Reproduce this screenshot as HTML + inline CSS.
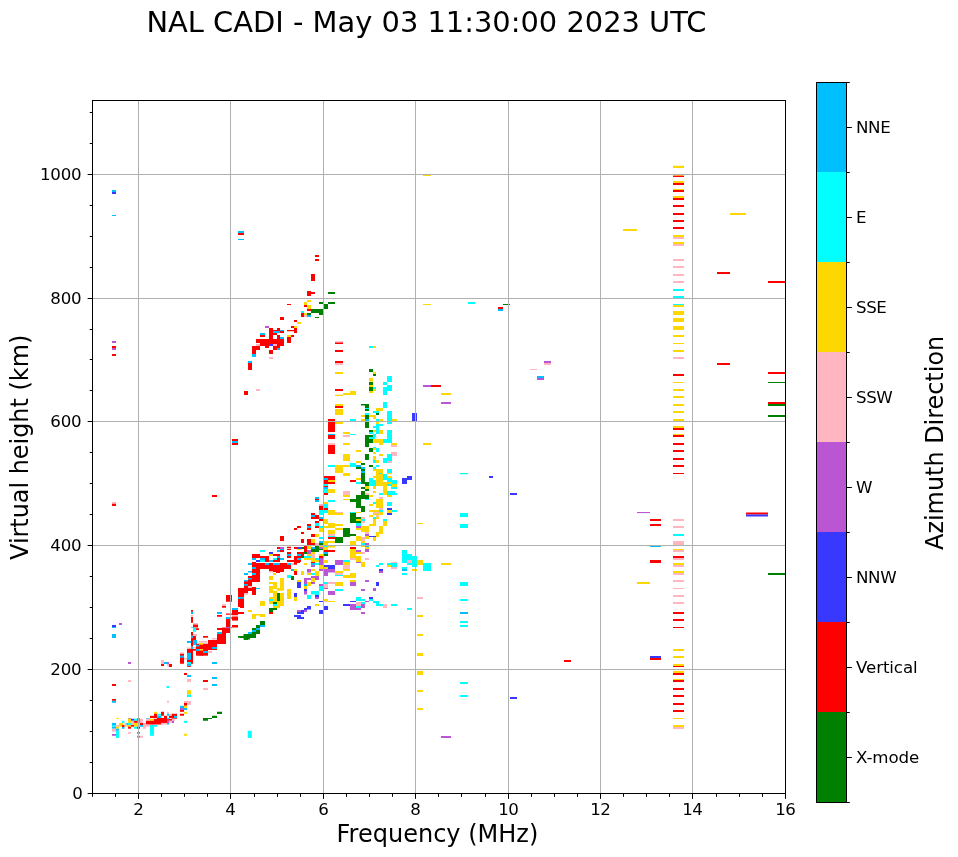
<!DOCTYPE html>
<html><head><meta charset="utf-8"><title>NAL CADI ionogram</title>
<style>html,body{margin:0;padding:0;background:#fff;}svg{display:block;}</style></head>
<body><svg width="958" height="857" viewBox="0 0 958 857" font-family="'DejaVu Sans', 'Liberation Sans', sans-serif" fill="#000">
<rect width="958" height="857" fill="#fff"/>
<path fill="#00bfff" d="M112 190h4v2h-4z"/>
<path fill="#3838ff" d="M112 192h4v2h-4z"/>
<path fill="#00bfff" d="M112 215h4v1h-4z"/>
<path fill="#ba55d3" d="M112 341h4v2h-4z"/>
<path fill="#ff0000" d="M112 346h4v2h-4z"/>
<path fill="#ba55d3" d="M112 348h4v2h-4z"/>
<path fill="#ff0000" d="M112 354h4v2h-4z"/>
<path fill="#ffb6c1" d="M112 502h4v1.75h-4z"/>
<path fill="#ff0000" d="M112 503.75h4v2.25h-4z"/>
<path fill="#3838ff" d="M112 625h4v2h-4z"/>
<path fill="#00bfff" d="M112 627h4v1h-4z"/>
<path fill="#ba55d3" d="M119 623h3v2h-3z"/>
<path fill="#00bfff" d="M112 634h4v4h-4z"/>
<path fill="#ba55d3" d="M128 662h3v2h-3z"/>
<path fill="#ffb6c1" d="M128 680h3v2h-3z"/>
<path fill="#ff0000" d="M112 684h4v2h-4z"/>
<path fill="#ffb6c1" d="M161 660h3v4h-3z"/>
<path fill="#00bfff" d="M164 662h4v2h-4z"/>
<path fill="#ba55d3" d="M167 662h2v2h-2z"/>
<path fill="#ff0000" d="M161 664h3v2h-3z"/>
<path fill="#ffb6c1" d="M167 664h2v2.5h-2z"/>
<path fill="#ff0000" d="M169 664h3v3h-3zM180 653.5h4v10.2h-4z"/>
<path fill="#00bfff" d="M180 655.6h4v2.1h-4z"/>
<path fill="#ffb6c1" d="M180 652.5h4v1h-4zM184 657.7h3v1.8h-3z"/>
<path fill="#ff0000" d="M187 648.6h4v18.2h-4z"/>
<path fill="#00bfff" d="M187 652.8h4v7h-4z"/>
<path fill="#00ffff" d="M187 662h4v2h-4z"/>
<path fill="#00bfff" d="M187 664h4v2h-4z"/>
<path fill="#ffb6c1" d="M187 647.5h4v1.2h-4z"/>
<path fill="#ff0000" d="M191 610h2v1.8h-2z"/>
<path fill="#00bfff" d="M191 611.8h2v2.2h-2z"/>
<path fill="#ffb6c1" d="M191 614.8h2v1.9h-2z"/>
<path fill="#ff0000" d="M191 617h2v5.8h-2z"/>
<path fill="#00bfff" d="M191 627h2v0.7h-2z"/>
<path fill="#ff0000" d="M191 632h2v3.7h-2z"/>
<path fill="#00bfff" d="M191 635.7h2v2h-2z"/>
<path fill="#ff0000" d="M191 637.7h2v9h-2z"/>
<path fill="#00bfff" d="M191 646.7h2v2.3h-2z"/>
<path fill="#ff0000" d="M191 649h2v14.7h-2z"/>
<path fill="#ffb6c1" d="M193 623h5v1.5h-5z"/>
<path fill="#ff0000" d="M193 624.5h5v3h-5z"/>
<path fill="#00ffff" d="M193 627.6h3v4.2h-3z"/>
<path fill="#ff0000" d="M196 628.3h3v1.7h-3zM193 635.7h3v9.3h-3zM193 649h3v1.8h-3z"/>
<path fill="#00bfff" d="M193 640h4v5h-4z"/>
<path fill="#ffb6c1" d="M193 634h4v2h-4zM193 647h4v1.6h-4z"/>
<path fill="#ff0000" d="M196 643.7h12v12h-12z"/>
<path fill="#ffd700" d="M199 643h4v1.7h-4zM199 649h4v1.7h-4z"/>
<path fill="#00bfff" d="M196 644.7h3.4v1.8h-3.4zM196 649h3.4v2h-3.4z"/>
<path fill="#ffb6c1" d="M199 641h8v1.6h-8z"/>
<path fill="#ff0000" d="M203 636h5v1.7h-5z"/>
<path fill="#00bfff" d="M203 651h5v2h-5z"/>
<path fill="#ff0000" d="M199 650.7h4v4.9h-4zM208 640h9v10h-9zM217 633h9v11h-9z"/>
<path fill="#ffb6c1" d="M212 638h5v1.5h-5z"/>
<path fill="#00bfff" d="M212 647h5v2h-5z"/>
<path fill="#ffb6c1" d="M208 651h4v2h-4z"/>
<path fill="#00bfff" d="M212 662h5v2h-5z"/>
<path fill="#ff0000" d="M217 628h9v2h-9zM222 627.6h8v5.4h-8z"/>
<path fill="#00bfff" d="M217 632h5v2h-5z"/>
<path fill="#ff0000" d="M222 641h4v1.6h-4zM226 595h6v6.7h-6zM226 619h4v8h-4z"/>
<path fill="#00bfff" d="M226 617h6v2h-6z"/>
<path fill="#ba55d3" d="M226 627h6v1.2h-6z"/>
<path fill="#ff0000" d="M222 606h4v1.7h-4z"/>
<path fill="#ffb6c1" d="M222 604h4v2h-4z"/>
<path fill="#00bfff" d="M217 612h5v2h-5z"/>
<path fill="#ff0000" d="M217 615h5v1.7h-5zM226 613.6h6v1.1h-6z"/>
<path fill="#00bfff" d="M232 608h6v2h-6z"/>
<path fill="#ff0000" d="M232 610h6v10.6h-6z"/>
<path fill="#ffb6c1" d="M232 615h6v1.7h-6z"/>
<path fill="#ff0000" d="M232 625h6v2.6h-6zM238 612h6v2h-6zM238 588h6v19h-6z"/>
<path fill="#00bfff" d="M238 597h6v2h-6z"/>
<path fill="#ff0000" d="M244 580h4v14h-4z"/>
<path fill="#00bfff" d="M244 580h4v1.7h-4zM244 584h4v2h-4z"/>
<path fill="#ffb6c1" d="M244 593h4v1.7h-4z"/>
<path fill="#ffd700" d="M248 610h2v2h-2z"/>
<path fill="#008000" d="M243.5 634h6.5v5.5h-6.5zM238 636h5.5v1.7h-5.5z"/>
<path fill="#00bfff" d="M248 632h2v2h-2z"/>
<path fill="#ff0000" d="M184 673h3v2h-3z"/>
<path fill="#00bfff" d="M187 675h4v2h-4z"/>
<path fill="#ffb6c1" d="M187 679h4v3h-4z"/>
<path fill="#ff0000" d="M203 680h5v2h-5z"/>
<path fill="#00bfff" d="M212 677h5v2h-5zM212 684h5v2h-5z"/>
<path fill="#ffb6c1" d="M203 688h5v2h-5z"/>
<path fill="#ffd700" d="M187 690h4v4.6h-4z"/>
<path fill="#00ffff" d="M187 694.6h4v2.4h-4z"/>
<path fill="#ff0000" d="M112 699h4v1.8h-4z"/>
<path fill="#00bfff" d="M112 700.8h4v2h-4z"/>
<path fill="#ffd700" d="M116 717.9h3v0.9h-3z"/>
<path fill="#00bfff" d="M112 722.9h4v2.1h-4z"/>
<path fill="#00ffff" d="M112 725h4v1.7h-4z"/>
<path fill="#00bfff" d="M112 726.7h4v2h-4z"/>
<path fill="#ffb6c1" d="M112 728.75h4v3h-4z"/>
<path fill="#ba55d3" d="M112 734h4v1.8h-4z"/>
<path fill="#ffb6c1" d="M116 725h3v1.7h-3z"/>
<path fill="#ffd700" d="M116 726.7h3v2h-3z"/>
<path fill="#00bfff" d="M116 728.75h3v2h-3z"/>
<path fill="#00ffff" d="M116 730.8h3v7.2h-3z"/>
<path fill="#ffd700" d="M119 722.9h4v3.8h-4z"/>
<path fill="#00ffff" d="M122 720.8h2.5v2.1h-2.5z"/>
<path fill="#ff0000" d="M122 725h2.5v2h-2.5z"/>
<path fill="#00bfff" d="M122 727h2.5v1.75h-2.5z"/>
<path fill="#ffb6c1" d="M124.5 722.9h2v2.1h-2z"/>
<path fill="#ffd700" d="M124.5 725h2v1.7h-2z"/>
<path fill="#00bfff" d="M126.5 722.9h3.5v2.1h-3.5z"/>
<path fill="#ffb6c1" d="M126.5 725h3.5v1.7h-3.5z"/>
<path fill="#ba55d3" d="M128 718h3v0.75h-3z"/>
<path fill="#ffd700" d="M128 718.75h3v4.1h-3z"/>
<path fill="#00ffff" d="M128 722.9h3v2.1h-3z"/>
<path fill="#ffd700" d="M128 725h3v1.7h-3z"/>
<path fill="#ff0000" d="M128 726.7h3v2h-3z"/>
<path fill="#ffb6c1" d="M128 732h3v1.75h-3z"/>
<path fill="#3838ff" d="M131 718.75h3v2h-3z"/>
<path fill="#ffb6c1" d="M131 720.8h3v4.2h-3z"/>
<path fill="#ff0000" d="M131 725h3v1.7h-3z"/>
<path fill="#00ffff" d="M134 718.75h3v2h-3z"/>
<path fill="#ff0000" d="M134 720.8h3v2.1h-3z"/>
<path fill="#ffd700" d="M134 722.9h3v3.8h-3z"/>
<path fill="#00ffff" d="M134 726.7h3v2h-3z"/>
<path fill="#00bfff" d="M137 718h3v4.9h-3z"/>
<path fill="#ffb6c1" d="M137 722.9h3v3.8h-3z"/>
<path fill="#ff0000" d="M137 726.7h3v2h-3z"/>
<path fill="#ba55d3" d="M137 732h3v1.75h-3z"/>
<path fill="#00bfff" d="M137 735.8h3v1.9h-3z"/>
<path fill="#ffb6c1" d="M140 735.8h3v1.9h-3zM140 718.75h3v4.1h-3z"/>
<path fill="#ff0000" d="M140 722.9h3v2.1h-3z"/>
<path fill="#00bfff" d="M140 725h3v1.7h-3z"/>
<path fill="#ffb6c1" d="M143 722.9h3v5.8h-3z"/>
<path fill="#00bfff" d="M146 718h4v0.75h-4z"/>
<path fill="#ffb6c1" d="M146 718.75h4v2h-4z"/>
<path fill="#ff0000" d="M146 720.8h4v3.8h-4z"/>
<path fill="#ffb6c1" d="M146 724.6h4v2.1h-4z"/>
<path fill="#ff0000" d="M150 715.8h4v2.2h-4z"/>
<path fill="#ffd700" d="M150 718.75h4v2h-4z"/>
<path fill="#ff0000" d="M150 720.8h4v3.8h-4z"/>
<path fill="#00ffff" d="M150 725h4v10.8h-4z"/>
<path fill="#ffd700" d="M154 711.8h3v2h-3z"/>
<path fill="#ff0000" d="M154 713.75h3v4.2h-3zM154 718.75h3v5.8h-3z"/>
<path fill="#00ffff" d="M154 725h3v1.7h-3zM157 713.75h4.5v2.1h-4.5z"/>
<path fill="#00bfff" d="M157 715.8h4.5v2.2h-4.5z"/>
<path fill="#ff0000" d="M157 718h4.5v6.6h-4.5zM161 711.8h3v4h-3zM161 718h3v4.9h-3z"/>
<path fill="#ffb6c1" d="M161 722.9h6v1.7h-6z"/>
<path fill="#ff0000" d="M164 715.8h3v7.1h-3z"/>
<path fill="#ffb6c1" d="M167 700.8h2v2h-2zM167 711.8h2v2h-2z"/>
<path fill="#00bfff" d="M167 713.75h2v2h-2zM167 718h2v1.2h-2z"/>
<path fill="#ff0000" d="M167 719.2h2v1.6h-2z"/>
<path fill="#ba55d3" d="M167 720.8h2v2.1h-2z"/>
<path fill="#00bfff" d="M167 722.9h2v1.7h-2z"/>
<path fill="#ffb6c1" d="M169 713.75h3v2h-3z"/>
<path fill="#ff0000" d="M169 715.8h3v2.2h-3zM169 718.75h3v2h-3z"/>
<path fill="#ffb6c1" d="M169 720.8h3v2.1h-3z"/>
<path fill="#ff0000" d="M172 713.75h5v5h-5z"/>
<path fill="#00bfff" d="M174 715.8h3v2.2h-3z"/>
<path fill="#ffb6c1" d="M172 718.75h3v2h-3z"/>
<path fill="#ba55d3" d="M172 720.8h2v2.1h-2z"/>
<path fill="#ff0000" d="M252 562h4v2h-4zM256 563h35v6h-35zM252 563h4v6h-4zM252 569h8v13h-8zM248 576h4v10h-4zM244 580h4v10h-4zM240 588h4v20h-4zM244 587h12v4h-12zM252 591h4v4h-4zM269 569h15v3h-15zM276 571h4v2h-4zM287 560h13v2h-13zM294 560h6v3h-6zM294 571h3v4h-3zM240 612h4v2h-4z"/>
<path fill="#00bfff" d="M248 563h4v2h-4zM265 563h4v2h-4zM273 563h7v2h-7zM287 563h4v2h-4zM252 567h4v2h-4zM248 571h4v1.6h-4zM244 573h4v2h-4zM252 573h4v2h-4zM248 578h4v1.6h-4zM244 580h4v1.5h-4zM244 584h4v1.7h-4zM240 597h4v1.7h-4zM256 588h4v1h-4zM291 569h3v2h-3z"/>
<path fill="#00ffff" d="M287 575h4v3h-4z"/>
<path fill="#ffb6c1" d="M269 571h4v1.6h-4zM248 586h4v2h-4zM244 593h4v1.5h-4zM291 563h3v2h-3z"/>
<path fill="#ffd700" d="M269 576h4v4h-4zM280 578h4v12.7h-4zM269 582h8v2h-8zM273 584h4v2h-4zM269 586h8v3h-8zM277 588h3v2.7h-3zM269 589h4v4h-4zM273 590.7h4v11.3h-4zM280 593h4v13h-4zM269 597h4v2h-4zM269 601h4v3h-4zM277 601h3v5h-3zM273 606h7v2h-7z"/>
<path fill="#008000" d="M277 593h3v8h-3z"/>
<path fill="#00ffff" d="M269 599h4v2h-4z"/>
<path fill="#008000" d="M273 602h4v2h-4z"/>
<path fill="#00ffff" d="M273 604h4v2h-4z"/>
<path fill="#008000" d="M269 608h8v2h-8zM269 610h4v2h-4z"/>
<path fill="#ff0000" d="M269 612h4v2h-4z"/>
<path fill="#ffd700" d="M273 573h3v2h-3zM260 601h5v5h-5zM248 610h4v2h-4zM252 614h4v5h-4zM256 614h4v1.5h-4zM260 614h5v3h-5zM287 589h4v10h-4zM294 597h3v4h-3zM301 571h3v4h-3zM297 580h4v2h-4zM304 563h3v2h-3z"/>
<path fill="#3838ff" d="M297 582h4v6h-4zM294 593h3v4h-3z"/>
<path fill="#008000" d="M291 576h3v4h-3zM260 621h5v4h-5z"/>
<path fill="#00bfff" d="M260 625h5v2h-5z"/>
<path fill="#008000" d="M256 625h4v3h-4zM252 628h4v2h-4z"/>
<path fill="#00bfff" d="M256 628h4v2h-4zM252 630h4v2h-4z"/>
<path fill="#008000" d="M256 630h4v4h-4z"/>
<path fill="#00bfff" d="M248 632h4v2h-4z"/>
<path fill="#008000" d="M252 632h4v6h-4zM244 634h12v4h-12zM240 636h4v2h-4zM244 638h4v2h-4z"/>
<path fill="#ba55d3" d="M307 569h4v3.6h-4z"/>
<path fill="#ffd700" d="M311 569h4v2h-4z"/>
<path fill="#00ffff" d="M311 573h4v2h-4z"/>
<path fill="#ffd700" d="M307 573h4v2h-4zM315 571h4v5h-4z"/>
<path fill="#ba55d3" d="M311 576h8v4h-8z"/>
<path fill="#ffd700" d="M311 578h4v4h-4z"/>
<path fill="#ba55d3" d="M304 578h7v2h-7zM304 580h3v4h-3z"/>
<path fill="#ffd700" d="M307 582h4v4h-4z"/>
<path fill="#ba55d3" d="M311 582h4v2h-4z"/>
<path fill="#00bfff" d="M304 584h3v2h-3z"/>
<path fill="#ffd700" d="M304 586h3v3h-3z"/>
<path fill="#3838ff" d="M304 589h3v2h-3z"/>
<path fill="#ba55d3" d="M304 591h3v3.5h-3z"/>
<path fill="#00ffff" d="M311 591h8v3.5h-8zM307 595h4v4h-4z"/>
<path fill="#3838ff" d="M315 595h4v2h-4z"/>
<path fill="#ba55d3" d="M315 597h4v2h-4z"/>
<path fill="#ffd700" d="M315 604h4v2h-4zM311 560h8v2h-8z"/>
<path fill="#ff0000" d="M311 562h4v1h-4z"/>
<path fill="#00bfff" d="M311 563h4v2h-4z"/>
<path fill="#00ffff" d="M315 563h4v2h-4z"/>
<path fill="#ba55d3" d="M311 565h4v2h-4z"/>
<path fill="#3838ff" d="M256 560h4v2h-4z"/>
<path fill="#00ffff" d="M260 560h5v2h-5z"/>
<path fill="#ff0000" d="M265 560h4v2h-4z"/>
<path fill="#00bfff" d="M269 560h4v2h-4z"/>
<path fill="#ff0000" d="M273 560h7v2h-7z"/>
<path fill="#3838ff" d="M307 606h4v3.5h-4zM304 608h3v2h-3z"/>
<path fill="#ba55d3" d="M297 610h4v2h-4z"/>
<path fill="#3838ff" d="M301 610h3v4h-3z"/>
<path fill="#ba55d3" d="M304 610h3v2h-3z"/>
<path fill="#3838ff" d="M297 612h7v2h-7zM294 615h7v2h-7zM297 617h7v2h-7z"/>
<path fill="#00bfff" d="M315 497h4v2h-4z"/>
<path fill="#ff0000" d="M315 499h4v1h-4z"/>
<path fill="#00bfff" d="M315 500h4v2h-4z"/>
<path fill="#ff0000" d="M311 513h4v2h-4zM311 515h8v4h-8z"/>
<path fill="#00bfff" d="M311 515h4v2h-4z"/>
<path fill="#ff0000" d="M315 521h4v2h-4z"/>
<path fill="#00ffff" d="M315 523h4v3h-4z"/>
<path fill="#ff0000" d="M315 526h4v2h-4zM307 524h4v2h-4z"/>
<path fill="#00bfff" d="M307 526h4v2h-4z"/>
<path fill="#ff0000" d="M307 528h4v2h-4zM297 526h4v2h-4zM294 528h3v2h-3zM301 532h3v2h-3zM311 534h4v3h-4z"/>
<path fill="#ffd700" d="M315 534h4v3h-4z"/>
<path fill="#ff0000" d="M280 536h4v5h-4zM301 539h3v4h-3zM307 539h4v6h-4z"/>
<path fill="#ffd700" d="M311 539h4v4h-4z"/>
<path fill="#ff0000" d="M311 543h4v2h-4z"/>
<path fill="#ffb6c1" d="M315 543h4v2h-4z"/>
<path fill="#ff0000" d="M277 547h3v2h-3z"/>
<path fill="#ba55d3" d="M280 547h4v2h-4z"/>
<path fill="#00bfff" d="M280 549h4v1h-4z"/>
<path fill="#ff0000" d="M280 550h4v2h-4z"/>
<path fill="#00bfff" d="M277 550h3v2h-3z"/>
<path fill="#ffb6c1" d="M287 546h4v1h-4z"/>
<path fill="#ff0000" d="M287 547h4v1h-4z"/>
<path fill="#ffb6c1" d="M287 548h4v1h-4z"/>
<path fill="#ff0000" d="M287 549h4v1h-4z"/>
<path fill="#00ffff" d="M260 550h5v2h-5z"/>
<path fill="#3838ff" d="M269 552h4v2h-4z"/>
<path fill="#ffd700" d="M269 554h4v2h-4z"/>
<path fill="#ff0000" d="M273 554h7v2h-7zM252 554h8v4h-8zM260 556h9v4h-9z"/>
<path fill="#00bfff" d="M252 558h4v2h-4zM260 558h5v2h-5zM277 556h3v2h-3z"/>
<path fill="#ff0000" d="M277 558h3v2h-3z"/>
<path fill="#00bfff" d="M280 558h4v2h-4z"/>
<path fill="#00ffff" d="M273 558h4v2h-4z"/>
<path fill="#ff0000" d="M287 552h4v2h-4z"/>
<path fill="#00bfff" d="M287 554h4v2h-4z"/>
<path fill="#ff0000" d="M287 556h4v2h-4zM294 547h3v2h-3z"/>
<path fill="#3838ff" d="M297 547h4v2h-4z"/>
<path fill="#ffd700" d="M297 549h4v1h-4z"/>
<path fill="#008000" d="M301 547h3v2h-3z"/>
<path fill="#ff0000" d="M304 546h3v8h-3z"/>
<path fill="#ffd700" d="M307 546h4v3h-4z"/>
<path fill="#00bfff" d="M311 547h4v2h-4z"/>
<path fill="#008000" d="M315 546h4v6h-4zM311 549h4v3h-4z"/>
<path fill="#ff0000" d="M297 552h7v4h-7z"/>
<path fill="#008000" d="M304 552h3v2h-3z"/>
<path fill="#ba55d3" d="M307 550h4v4h-4z"/>
<path fill="#ffd700" d="M307 554h4v2h-4zM311 552h4v2h-4z"/>
<path fill="#ffb6c1" d="M311 554h4v4h-4z"/>
<path fill="#ff0000" d="M294 556h7v4h-7z"/>
<path fill="#00bfff" d="M297 558h4v2h-4z"/>
<path fill="#ff0000" d="M294 560h7v2h-7zM294 562h3v2.7h-3z"/>
<path fill="#00bfff" d="M297 554h4v2h-4z"/>
<path fill="#008000" d="M301 556h3v2h-3z"/>
<path fill="#00ffff" d="M304 556h7v2h-7z"/>
<path fill="#ffd700" d="M304 558h11v2h-11z"/>
<path fill="#00ffff" d="M315 558h4v2h-4z"/>
<path fill="#ffb6c1" d="M319 504h4v1.7h-4z"/>
<path fill="#ff0000" d="M319 505.7h4v4.3h-4z"/>
<path fill="#00ffff" d="M319 510h4v5h-4z"/>
<path fill="#00bfff" d="M319 517h4v2h-4z"/>
<path fill="#ff0000" d="M319 519h4v2h-4z"/>
<path fill="#00ffff" d="M319 526h4v2h-4z"/>
<path fill="#ffd700" d="M319 528h4v4h-4z"/>
<path fill="#00ffff" d="M319 537h4v2h-4z"/>
<path fill="#00bfff" d="M319 541h4v2h-4z"/>
<path fill="#008000" d="M319 543h4v2h-4z"/>
<path fill="#ffd700" d="M319 546h4v1h-4z"/>
<path fill="#ba55d3" d="M319 547h4v2h-4z"/>
<path fill="#008000" d="M319 549h4v1h-4z"/>
<path fill="#ffd700" d="M319 554h4v2h-4z"/>
<path fill="#ff0000" d="M319 556h4v2h-4z"/>
<path fill="#ba55d3" d="M319 558h4v2h-4z"/>
<path fill="#ff0000" d="M324 480h11v4h-11z"/>
<path fill="#ffd700" d="M328 480h7v2h-7z"/>
<path fill="#00ffff" d="M324 484h4v2h-4z"/>
<path fill="#ff0000" d="M324 486h4v1h-4z"/>
<path fill="#00bfff" d="M324 487h4v2h-4z"/>
<path fill="#00ffff" d="M324 489h4v4h-4z"/>
<path fill="#ff0000" d="M324 493h4v2h-4z"/>
<path fill="#ffd700" d="M328 489h7v4h-7z"/>
<path fill="#00ffff" d="M328 500h7v2h-7z"/>
<path fill="#ffd700" d="M324 502h4v2h-4z"/>
<path fill="#00ffff" d="M324 504h4v4h-4z"/>
<path fill="#ff0000" d="M324 508h4v2h-4z"/>
<path fill="#00ffff" d="M324 510h4v3h-4z"/>
<path fill="#ffd700" d="M328 510h7v5h-7z"/>
<path fill="#ffb6c1" d="M335 512h8v1h-8z"/>
<path fill="#ffd700" d="M335 513h8v2h-8zM324 519h4v5h-4zM328 523h7v5h-7zM335 524h8v2h-8zM324 526h4v2h-4zM335 528h8v2h-8zM328 530h7v4h-7z"/>
<path fill="#ffb6c1" d="M328 534h7v2h-7z"/>
<path fill="#00ffff" d="M328 536h7v1h-7z"/>
<path fill="#ff0000" d="M328 537h7v2h-7z"/>
<path fill="#ffd700" d="M324 541h4v4h-4zM328 541h7v2h-7z"/>
<path fill="#00ffff" d="M324 546h4v1h-4z"/>
<path fill="#ffd700" d="M328 546h7v1.5h-7zM324 547h4v3h-4z"/>
<path fill="#ff0000" d="M324 550h11v2h-11z"/>
<path fill="#00bfff" d="M324 552h4v2h-4z"/>
<path fill="#008000" d="M324 554h4v2h-4zM335 537h8v6h-8zM343 528h7v9h-7zM350 534h6v2h-6zM350 513h6v10h-6zM356 517h5v2h-5zM356 521h5v2h-5z"/>
<path fill="#ffd700" d="M356 519h5v2h-5z"/>
<path fill="#008000" d="M350 499h11v3h-11zM356 495h5v13h-5zM361 506h4v6h-4zM361 491h4v8h-4zM365 495h4v4h-4zM361 480h4v4h-4zM365 482h4v4h-4zM361 487h4v2h-4zM365 489h4v2h-4z"/>
<path fill="#00ffff" d="M356 482h5v2h-5z"/>
<path fill="#ffd700" d="M365 486h4v3h-4z"/>
<path fill="#ffb6c1" d="M365 493h4v2h-4z"/>
<path fill="#00ffff" d="M365 499h4v1h-4z"/>
<path fill="#ffb6c1" d="M343 491h7v4h-7z"/>
<path fill="#ffd700" d="M343 495h7v2h-7zM343 499h7v1h-7z"/>
<path fill="#ff0000" d="M350 480h6v2h-6z"/>
<path fill="#00ffff" d="M350 512h6v1h-6z"/>
<path fill="#ffd700" d="M356 512h5v1h-5z"/>
<path fill="#ffb6c1" d="M361 517h4v2h-4z"/>
<path fill="#00ffff" d="M361 519h4v2h-4z"/>
<path fill="#ffb6c1" d="M361 521h4v2h-4z"/>
<path fill="#00ffff" d="M356 523h5v3h-5z"/>
<path fill="#ba55d3" d="M356 526h5v2h-5z"/>
<path fill="#ffd700" d="M356 528h5v2h-5zM361 526h8v6h-8z"/>
<path fill="#ffb6c1" d="M365 532h4v2h-4z"/>
<path fill="#ba55d3" d="M365 534h4v2h-4z"/>
<path fill="#ffd700" d="M365 536h4v3h-4z"/>
<path fill="#3838ff" d="M369 536h7v1h-7z"/>
<path fill="#ffd700" d="M356 536h5v5h-5z"/>
<path fill="#ffb6c1" d="M361 537h4v4h-4z"/>
<path fill="#ffd700" d="M350 541h6v4h-6zM361 541h4v2h-4z"/>
<path fill="#00ffff" d="M361 543h4v2h-4z"/>
<path fill="#ba55d3" d="M365 543h4v2h-4z"/>
<path fill="#ff0000" d="M350 547h6v2h-6z"/>
<path fill="#ffd700" d="M350 549h6v11h-6z"/>
<path fill="#ba55d3" d="M356 550h5v2h-5z"/>
<path fill="#ffd700" d="M356 552h5v2h-5z"/>
<path fill="#ffb6c1" d="M361 552h4v2h-4z"/>
<path fill="#ffd700" d="M356 556h5v4h-5z"/>
<path fill="#ffb6c1" d="M350 558h6v2h-6z"/>
<path fill="#ffd700" d="M361 546h4v1h-4z"/>
<path fill="#00bfff" d="M365 546h4v1h-4z"/>
<path fill="#ffd700" d="M365 547h4v2h-4z"/>
<path fill="#ba55d3" d="M365 549h4v3h-4z"/>
<path fill="#ffb6c1" d="M365 558h4v2h-4z"/>
<path fill="#00ffff" d="M369 480h7v6h-7z"/>
<path fill="#ffd700" d="M376 480h7v6h-7zM383 482h4v13h-4z"/>
<path fill="#00ffff" d="M387 480h8v4h-8z"/>
<path fill="#ffd700" d="M391 484h4v3h-4z"/>
<path fill="#00ffff" d="M391 487h4v2h-4z"/>
<path fill="#ffd700" d="M373 486h3v3h-3zM373 491h3v2h-3z"/>
<path fill="#00ffff" d="M379 493h4v2h-4zM387 491h8v4h-8z"/>
<path fill="#ffd700" d="M387 495h4v2h-4zM369 495h4v2h-4z"/>
<path fill="#ffb6c1" d="M379 497h4v2h-4z"/>
<path fill="#ffd700" d="M376 499h7v9h-7z"/>
<path fill="#00ffff" d="M373 502h3v2h-3z"/>
<path fill="#ffd700" d="M369 504h4v2h-4z"/>
<path fill="#00ffff" d="M387 502h4v4h-4z"/>
<path fill="#ffb6c1" d="M379 508h4v2h-4z"/>
<path fill="#00ffff" d="M379 510h4v2h-4z"/>
<path fill="#3838ff" d="M387 508h4v2h-4z"/>
<path fill="#ffd700" d="M387 510h4v2h-4z"/>
<path fill="#3838ff" d="M387 513h4v2h-4z"/>
<path fill="#ffd700" d="M387 512h4v1h-4z"/>
<path fill="#00ffff" d="M391 510h4v2h-4z"/>
<path fill="#ffd700" d="M369 510h10v2h-10zM373 512h10v3h-10z"/>
<path fill="#ffb6c1" d="M373 512h6v1.5h-6z"/>
<path fill="#ffd700" d="M369 515h4v2h-4z"/>
<path fill="#ffb6c1" d="M376 515h3v2h-3z"/>
<path fill="#ffd700" d="M376 517h3v2h-3z"/>
<path fill="#00ffff" d="M373 517h3v2h-3z"/>
<path fill="#ffd700" d="M373 519h3v7h-3zM369 524h7v2h-7z"/>
<path fill="#00ffff" d="M383 519h4v2h-4z"/>
<path fill="#ffd700" d="M383 521h4v5h-4zM379 526h4v8h-4zM376 532h3v5h-3zM373 537h3v4h-3zM335 404h8v2h-8z"/>
<path fill="#ff0000" d="M335 406h8v2h-8z"/>
<path fill="#ffd700" d="M335 409h8v6h-8z"/>
<path fill="#ff0000" d="M328 419h7v2h-7zM328 422h7v10h-7z"/>
<path fill="#ffd700" d="M335 422h8v2h-8z"/>
<path fill="#00bfff" d="M328 434h7v1h-7z"/>
<path fill="#ff0000" d="M328 435h7v4h-7z"/>
<path fill="#ffb6c1" d="M328 443h7v2h-7z"/>
<path fill="#ff0000" d="M328 445h7v9h-7z"/>
<path fill="#ffd700" d="M343 432h7v2h-7z"/>
<path fill="#ffb6c1" d="M343 435h7v2h-7z"/>
<path fill="#00ffff" d="M350 434h6v1h-6z"/>
<path fill="#ffd700" d="M343 443h7v2h-7zM356 450h5v2h-5zM343 454h7v7h-7z"/>
<path fill="#00ffff" d="M350 419h6v2h-6z"/>
<path fill="#ffd700" d="M361 419h4v2h-4z"/>
<path fill="#00ffff" d="M328 465h7v2h-7z"/>
<path fill="#ffd700" d="M335 465h8v8h-8zM343 465h7v2h-7zM343 473h7v3h-7z"/>
<path fill="#00ffff" d="M350 463h6v4h-6z"/>
<path fill="#ffd700" d="M356 461h5v2h-5z"/>
<path fill="#00bfff" d="M356 465h5v2h-5z"/>
<path fill="#008000" d="M356 467h5v2h-5zM361 463h4v2h-4z"/>
<path fill="#00bfff" d="M361 467h4v2h-4z"/>
<path fill="#008000" d="M361 469h4v2h-4z"/>
<path fill="#00bfff" d="M361 471h4v2h-4z"/>
<path fill="#008000" d="M361 473h4v7h-4z"/>
<path fill="#ff0000" d="M324 476h11v4h-11z"/>
<path fill="#00bfff" d="M324 478h4v2h-4z"/>
<path fill="#ffd700" d="M356 478h5v2h-5z"/>
<path fill="#008000" d="M361 404h4v1.6h-4zM365 404h4v4h-4z"/>
<path fill="#00ffff" d="M365 408h4v1h-4z"/>
<path fill="#008000" d="M365 409h4v2h-4z"/>
<path fill="#00ffff" d="M365 413h4v2h-4z"/>
<path fill="#008000" d="M365 415h4v4h-4z"/>
<path fill="#00bfff" d="M365 419h4v2h-4z"/>
<path fill="#008000" d="M365 422h4v6h-4zM365 435h4v12h-4zM369 435h4v2h-4zM369 439h4v4h-4zM369 430h4v2h-4z"/>
<path fill="#00ffff" d="M369 432h4v2h-4zM369 437h6v2h-6zM373 434h3v3h-3z"/>
<path fill="#008000" d="M369 448h4v4h-4z"/>
<path fill="#00ffff" d="M373 447h3v1h-3z"/>
<path fill="#ffd700" d="M373 448h3v2h-3z"/>
<path fill="#00ffff" d="M376 448h3v4h-3z"/>
<path fill="#ffd700" d="M373 452h3v2h-3z"/>
<path fill="#008000" d="M365 454h4v6h-4z"/>
<path fill="#ffd700" d="M373 456h3v4h-3z"/>
<path fill="#00ffff" d="M373 460h3v3h-3z"/>
<path fill="#ffd700" d="M376 460h3v3h-3z"/>
<path fill="#008000" d="M369 465h4v2h-4z"/>
<path fill="#00ffff" d="M373 467h3v2h-3zM376 465h3v2h-3z"/>
<path fill="#ffd700" d="M373 469h3v2h-3zM376 469h7v11h-7z"/>
<path fill="#00ffff" d="M379 473h3v1h-3z"/>
<path fill="#ffd700" d="M373 476h6v2h-6z"/>
<path fill="#00ffff" d="M369 478h4v2h-4zM383 474h4v6h-4z"/>
<path fill="#ffd700" d="M387 473h4v1h-4zM387 476h4v2h-4z"/>
<path fill="#00ffff" d="M387 469h4v4h-4zM387 478h4v2h-4z"/>
<path fill="#ffd700" d="M369 415h4v2h-4zM373 415h3v4h-3zM361 415h4v2h-4z"/>
<path fill="#00ffff" d="M373 411h6v2h-6zM376 409h3v2h-3z"/>
<path fill="#ffd700" d="M376 408h7v3h-7z"/>
<path fill="#008000" d="M376 413h3v2h-3z"/>
<path fill="#00ffff" d="M383 402h4v6h-4zM387 411h4v13h-4z"/>
<path fill="#ffd700" d="M376 422h3v2h-3z"/>
<path fill="#00ffff" d="M376 419h3v2h-3z"/>
<path fill="#ffd700" d="M379 419h4v2h-4z"/>
<path fill="#00ffff" d="M376 424h7v2h-7zM373 426h3v2h-3zM376 426h3v8h-3z"/>
<path fill="#ffd700" d="M373 430h3v2h-3zM379 430h4v4h-4z"/>
<path fill="#00ffff" d="M387 430h4v11h-4zM383 439h8v4h-8z"/>
<path fill="#ffd700" d="M373 439h10v4h-10zM379 443h4v2h-4zM391 419h4v2h-4zM391 443h4v2h-4z"/>
<path fill="#ffb6c1" d="M391 445h4v2h-4zM391 452h4v4h-4z"/>
<path fill="#ffd700" d="M379 454h4v2h-4z"/>
<path fill="#00ffff" d="M387 454h4v9h-4zM383 458h4v5h-4z"/>
<path fill="#ffb6c1" d="M387 461h4v1.5h-4zM335 341.3h8v1.3h-8z"/>
<path fill="#ff0000" d="M335 342.6h8v1.5h-8zM335 350h8v2h-8zM335 361h8v2h-8z"/>
<path fill="#ffb6c1" d="M335 363h8v2h-8z"/>
<path fill="#ffd700" d="M335 372h8v2h-8z"/>
<path fill="#ff0000" d="M335 389h8v2h-8z"/>
<path fill="#ffd700" d="M335 394.7h8v1.3h-8zM343 393h7v2h-7zM350 391h6v4h-6z"/>
<path fill="#00ffff" d="M369 346h4v2h-4z"/>
<path fill="#ffd700" d="M373 346h3v2h-3z"/>
<path fill="#008000" d="M369 369h4v3h-4z"/>
<path fill="#ffd700" d="M373 372h3v2h-3z"/>
<path fill="#008000" d="M373 374h3v2h-3z"/>
<path fill="#ffd700" d="M369 378h4v3.6h-4z"/>
<path fill="#008000" d="M369 382h4v3h-4z"/>
<path fill="#ffd700" d="M369 385h4v2h-4z"/>
<path fill="#008000" d="M369 387h4v4h-4z"/>
<path fill="#ffd700" d="M369 391h4v2h-4z"/>
<path fill="#00ffff" d="M373 387h3v2h-3z"/>
<path fill="#ffd700" d="M373 389h3v2h-3z"/>
<path fill="#00ffff" d="M387 376h5v6h-5zM383 382h4v3h-4zM387 385h5v6h-5zM383 387h4v8h-4zM391 411h1v13h-1zM391 430h1v13h-1z"/>
<path fill="#ffd700" d="M392 419h5v2h-5zM392 443h5v2h-5z"/>
<path fill="#ffb6c1" d="M392 445h5v2h-5z"/>
<path fill="#3838ff" d="M412 413h5v8h-5z"/>
<path fill="#ba55d3" d="M423 385h8v2h-8z"/>
<path fill="#ff0000" d="M431 385h10v2h-10z"/>
<path fill="#ffd700" d="M441 393h10v2h-10z"/>
<path fill="#ba55d3" d="M441 402h10v2h-10z"/>
<path fill="#ffd700" d="M423 443h8v2h-8z"/>
<path fill="#ffb6c1" d="M392 452h5v4h-5z"/>
<path fill="#00ffff" d="M391 454h1v7h-1z"/>
<path fill="#ffb6c1" d="M390 461h2v2h-2z"/>
<path fill="#00ffff" d="M390 469h2v4h-2z"/>
<path fill="#ffd700" d="M390 473h2v1.2h-2zM390 476h2v2h-2z"/>
<path fill="#00ffff" d="M390 478h2v4h-2z"/>
<path fill="#ffd700" d="M390 482h2v2h-2z"/>
<path fill="#00ffff" d="M390 484h2v2h-2zM392 480h5v4h-5z"/>
<path fill="#ffd700" d="M392 484h5v3h-5z"/>
<path fill="#00ffff" d="M392 487h5v2h-5z"/>
<path fill="#3838ff" d="M402 478h5v6h-5zM407 476h5v4h-5z"/>
<path fill="#00ffff" d="M390 491h2v4h-2zM392 493h5v2h-5z"/>
<path fill="#ffd700" d="M390 495h2v2h-2z"/>
<path fill="#00ffff" d="M390 502h2v4h-2z"/>
<path fill="#3838ff" d="M390 508h2v2h-2z"/>
<path fill="#ffd700" d="M390 510h2v3h-2z"/>
<path fill="#3838ff" d="M390 513h2v2h-2z"/>
<path fill="#00ffff" d="M392 510h5v2h-5z"/>
<path fill="#ffd700" d="M417 523h6v1h-6z"/>
<path fill="#00ffff" d="M460 473h8v1.2h-8zM460 513h8v4h-8zM460 524h8v4h-8zM402 550h5v13h-5zM407 554h5v11h-5zM412 556h5v11h-5z"/>
<path fill="#ffb6c1" d="M407 560h5v3h-5z"/>
<path fill="#ffd700" d="M417 560h6v5h-6z"/>
<path fill="#00ffff" d="M423 563h8v8h-8z"/>
<path fill="#ffd700" d="M441 563h10v2h-10z"/>
<path fill="#ffb6c1" d="M392 562h5v1h-5z"/>
<path fill="#00ffff" d="M390 563h7v4h-7z"/>
<path fill="#ffd700" d="M390 565h2v2h-2z"/>
<path fill="#ffb6c1" d="M392 567h5v2h-5z"/>
<path fill="#00ffff" d="M402 567h5v2h-5z"/>
<path fill="#00bfff" d="M402 569h5v2h-5z"/>
<path fill="#ffd700" d="M412 569h5v2h-5z"/>
<path fill="#00ffff" d="M402 573h5v2h-5zM460 582h8v4h-8zM460 599h8v2h-8z"/>
<path fill="#ffb6c1" d="M417 597h6v2h-6z"/>
<path fill="#00ffff" d="M392 604h5v2h-5zM407 608h5v2h-5z"/>
<path fill="#ffd700" d="M417 615h6v2h-6zM417 634h6v2h-6zM417 653h6v3h-6zM417 671h6v4h-6zM417 690h6v2h-6zM417 708h6v2h-6z"/>
<path fill="#00bfff" d="M460 612h8v2h-8z"/>
<path fill="#00ffff" d="M460 621h8v2h-8zM460 625h8v2h-8zM460 682h8v2h-8zM460 695h8v2h-8z"/>
<path fill="#ba55d3" d="M441 736h10v2h-10z"/>
<path fill="#ffd700" d="M423 174.7h8v1.3h-8zM423 304h8v1h-8z"/>
<path fill="#00ffff" d="M468 302h7v2h-7z"/>
<path fill="#008000" d="M503 304h7v1h-7z"/>
<path fill="#ff0000" d="M498 307h5v2h-5z"/>
<path fill="#00bfff" d="M498 309h5v2h-5z"/>
<path fill="#ba55d3" d="M544 361h7v2h-7z"/>
<path fill="#ffb6c1" d="M544 363h7v2h-7zM530 369h7v1h-7z"/>
<path fill="#00bfff" d="M537 376h7v2h-7z"/>
<path fill="#ba55d3" d="M537 378h7v2h-7z"/>
<path fill="#3838ff" d="M489 476h4v2h-4zM510 493h7v2h-7z"/>
<path fill="#ff0000" d="M564 660h7v2h-7z"/>
<path fill="#3838ff" d="M510 697h7v2h-7z"/>
<path fill="#ffd700" d="M623 229h14v2h-14zM673 165.8h11v2.2h-11zM673 175h11v0.7h-11z"/>
<path fill="#ff0000" d="M673 175.7h11v1.3h-11z"/>
<path fill="#ffd700" d="M673 181h11v2h-11z"/>
<path fill="#ff0000" d="M673 183h11v2h-11z"/>
<path fill="#ffd700" d="M673 189h11v1h-11z"/>
<path fill="#ff0000" d="M673 190h11v2h-11z"/>
<path fill="#ffd700" d="M673 196h11v2h-11z"/>
<path fill="#ff0000" d="M673 198h11v2h-11zM673 205h11v2h-11zM673 213h11v2h-11zM673 220h11v2h-11zM673 227h11v2h-11z"/>
<path fill="#ffd700" d="M673 235h11v2h-11z"/>
<path fill="#ffb6c1" d="M673 237h11v2h-11z"/>
<path fill="#ffd700" d="M673 242h11v2h-11z"/>
<path fill="#ffb6c1" d="M673 244h11v2h-11zM673 259h11v2h-11zM673 266h11v2h-11zM673 274h11v2h-11zM673 281h11v2h-11z"/>
<path fill="#00ffff" d="M673 289h11v2h-11zM673 296h11v2h-11zM673 304h11v1h-11z"/>
<path fill="#ffd700" d="M673 305h11v2h-11zM673 311h11v4h-11zM673 318h11v4h-11zM673 326h11v4h-11zM673 335h11v2h-11zM673 343h11v1h-11zM673 350h11v2h-11z"/>
<path fill="#ffb6c1" d="M673 357h11v2h-11z"/>
<path fill="#ff0000" d="M673 374h11v2h-11z"/>
<path fill="#ffd700" d="M673 382h11v1h-11zM673 389h11v2h-11zM673 396h11v2h-11zM673 404h11v2h-11zM673 411h11v2h-11zM673 419h11v2h-11zM673 426h11v2h-11z"/>
<path fill="#ff0000" d="M673 428h11v2h-11z"/>
<path fill="#ffd700" d="M673 434h11v1h-11z"/>
<path fill="#ff0000" d="M673 435h11v2h-11zM673 443h11v2h-11zM673 450h11v2h-11zM673 458h11v2h-11zM673 465h11v2h-11zM673 473h11v1h-11z"/>
<path fill="#ba55d3" d="M637 512h13v1.1h-13z"/>
<path fill="#ff0000" d="M650 519h11v2h-11zM650 524h11v2h-11z"/>
<path fill="#00bfff" d="M650 545.8h11v1.2h-11z"/>
<path fill="#ff0000" d="M650 560h11v3h-11z"/>
<path fill="#ffd700" d="M637 582h13v2h-13z"/>
<path fill="#ffb6c1" d="M673 519h11v2h-11zM673 526h11v2h-11z"/>
<path fill="#00ffff" d="M673 534h11v2h-11z"/>
<path fill="#ffb6c1" d="M673 541h11v4h-11z"/>
<path fill="#ffd700" d="M673 549h11v1h-11z"/>
<path fill="#ffb6c1" d="M673 550h11v2h-11z"/>
<path fill="#ff0000" d="M673 556h11v2h-11z"/>
<path fill="#ffb6c1" d="M673 558h11v2h-11z"/>
<path fill="#ffd700" d="M673 563h11v2h-11z"/>
<path fill="#ffb6c1" d="M673 565h11v2h-11z"/>
<path fill="#ffd700" d="M673 571h11v2h-11z"/>
<path fill="#ffb6c1" d="M673 573h11v2h-11zM673 580h11v2h-11zM673 588h11v1h-11zM673 595h11v2h-11zM673 602h11v2h-11z"/>
<path fill="#ff0000" d="M673 612h11v2h-11zM673 619h11v2h-11zM673 627h11v1h-11z"/>
<path fill="#ffd700" d="M673 649h11v2h-11zM673 656h11v2h-11zM673 664h11v2h-11z"/>
<path fill="#ff0000" d="M673 666h11v1h-11z"/>
<path fill="#ffd700" d="M673 671h11v2h-11z"/>
<path fill="#ff0000" d="M673 673h11v2h-11z"/>
<path fill="#ffd700" d="M673 679h11v1h-11z"/>
<path fill="#ff0000" d="M673 680h11v2h-11zM673 688h11v2h-11zM673 695h11v2h-11zM673 703h11v2h-11zM673 710h11v2h-11z"/>
<path fill="#ffd700" d="M673 718h11v1h-11zM673 725h11v2h-11z"/>
<path fill="#ffb6c1" d="M673 727h11v2h-11z"/>
<path fill="#3838ff" d="M650 656h11v2h-11z"/>
<path fill="#ff0000" d="M650 658h11v2h-11z"/>
<path fill="#ffd700" d="M730 213h16v2h-16z"/>
<path fill="#ff0000" d="M717 272h13v2h-13zM768 281h17v2h-17zM717 363h13v2h-13zM768 372h17v2h-17z"/>
<path fill="#008000" d="M768 382h17v1h-17z"/>
<path fill="#ff0000" d="M768 402h17v2h-17z"/>
<path fill="#008000" d="M768 404h17v2h-17zM768 415h17v2h-17z"/>
<path fill="#ff0000" d="M746 512.5h22v2h-22z"/>
<path fill="#3838ff" d="M746 514.5h22v2h-22z"/>
<path fill="#008000" d="M768 573h17v2h-17z"/>
<path fill="#ffb6c1" d="M184 701h7v3.8h-7z"/>
<path fill="#ff0000" d="M184 702.9h3v2.9h-3z"/>
<path fill="#ffd700" d="M184 705.8h3v2.2h-3z"/>
<path fill="#00bfff" d="M180 705.8h4v2.2h-4z"/>
<path fill="#ba55d3" d="M180 708h4v2h-4z"/>
<path fill="#00bfff" d="M184 708h3v2h-3z"/>
<path fill="#ff0000" d="M180 710h4v1.8h-4z"/>
<path fill="#ffd700" d="M184 711.8h3v2h-3z"/>
<path fill="#ff0000" d="M180 713.75h4v2h-4z"/>
<path fill="#00ffff" d="M184 720.8h3v2.1h-3z"/>
<path fill="#ffd700" d="M184 733.75h3v2h-3z"/>
<path fill="#008000" d="M203 718h5v2.8h-5zM208 718h4v1h-4zM212 715.8h5v2.2h-5zM217 711.8h5v2.2h-5z"/>
<path fill="#00ffff" d="M247.75 730.8h4v7.2h-4z"/>
<path fill="#ba55d3" d="M319 560h4v5h-4z"/>
<path fill="#ffd700" d="M319 565h4v4h-4z"/>
<path fill="#ba55d3" d="M319 569h4v2h-4z"/>
<path fill="#ffd700" d="M324 560h4v3h-4z"/>
<path fill="#3838ff" d="M324 565h11v2h-11zM328 567h7v2h-7z"/>
<path fill="#ffd700" d="M324 567h4v2h-4z"/>
<path fill="#ba55d3" d="M324 569h11v3.6h-11zM324 572.6h4v3.4h-4zM335 560h8v5h-8z"/>
<path fill="#00ffff" d="M343 560h7v2h-7z"/>
<path fill="#ffd700" d="M343 562h7v3h-7z"/>
<path fill="#ffb6c1" d="M343 565h7v4h-7z"/>
<path fill="#ffd700" d="M343 569h7v2h-7zM335 571h8v2h-8z"/>
<path fill="#ffb6c1" d="M335 573h8v2h-8z"/>
<path fill="#00ffff" d="M335 575h8v1h-8z"/>
<path fill="#ffd700" d="M343 575h13v3h-13zM350 573h6v2h-6zM356 560h5v2h-5z"/>
<path fill="#ba55d3" d="M356 562h5v1h-5z"/>
<path fill="#ffd700" d="M361 562h4v5h-4z"/>
<path fill="#00ffff" d="M376 565h3v2h-3zM379 563h4v2h-4zM387 563h8v2h-8z"/>
<path fill="#ffd700" d="M387 565h4v2h-4z"/>
<path fill="#00ffff" d="M391 565h4v2h-4z"/>
<path fill="#ffb6c1" d="M391 562h4v1h-4zM391 567h4v2h-4z"/>
<path fill="#3838ff" d="M379 569h4v2h-4z"/>
<path fill="#ba55d3" d="M379 571h4v2h-4z"/>
<path fill="#ffd700" d="M315 571h4v5h-4z"/>
<path fill="#ba55d3" d="M315 576h4v4h-4z"/>
<path fill="#00ffff" d="M324 582h4v2h-4z"/>
<path fill="#ffb6c1" d="M328 582h7v2h-7z"/>
<path fill="#ffd700" d="M335 582h8v4h-8z"/>
<path fill="#ba55d3" d="M319 584h4v2h-4z"/>
<path fill="#00ffff" d="M319 586h4v5h-4z"/>
<path fill="#ffb6c1" d="M324 584h4v4h-4z"/>
<path fill="#ba55d3" d="M324 588h4v1h-4z"/>
<path fill="#ffd700" d="M350 580h6v2h-6z"/>
<path fill="#ba55d3" d="M350 582h6v4h-6zM365 580h4v2h-4z"/>
<path fill="#3838ff" d="M376 582h3v4h-3z"/>
<path fill="#00ffff" d="M335 589h8v2h-8z"/>
<path fill="#ba55d3" d="M361 589h4v2h-4zM373 588h3v3h-3z"/>
<path fill="#00ffff" d="M315 591h4v4h-4z"/>
<path fill="#3838ff" d="M315 595h4v2h-4z"/>
<path fill="#ba55d3" d="M315 597h4v2h-4zM328 591h7v4h-7z"/>
<path fill="#ffd700" d="M324 599h4v2h-4z"/>
<path fill="#ffb6c1" d="M324 601h4v1h-4z"/>
<path fill="#ffd700" d="M328 601h7v1h-7z"/>
<path fill="#3838ff" d="M319 601h4v1h-4zM350 601h6v1h-6z"/>
<path fill="#00ffff" d="M356 597h5v4h-5zM361 599h4v2h-4z"/>
<path fill="#ba55d3" d="M365 601h4v1h-4z"/>
<path fill="#3838ff" d="M369 597h4v2h-4z"/>
<path fill="#00ffff" d="M369 599h4v2h-4zM373 601h6v2h-6zM376 603h3v3h-3zM379 604h4v2h-4z"/>
<path fill="#ffb6c1" d="M383 604h4v4h-4z"/>
<path fill="#00ffff" d="M391 604h4v2h-4z"/>
<path fill="#ffd700" d="M315 604h4v2h-4z"/>
<path fill="#3838ff" d="M343 604h7v2h-7z"/>
<path fill="#ba55d3" d="M350 604h6v6h-6zM356 608h5v2h-5z"/>
<path fill="#ffb6c1" d="M356 602h5v4h-5z"/>
<path fill="#00ffff" d="M356 606h5v2h-5zM361 602h4v2h-4z"/>
<path fill="#ba55d3" d="M361 604h4v4h-4z"/>
<path fill="#3838ff" d="M324 606h4v4h-4zM319 610h4v4h-4z"/>
<path fill="#ba55d3" d="M361 612h4v2h-4z"/>
<path fill="#ff0000" d="M294 320h3v2h-3z"/>
<path fill="#ffd700" d="M297 322h4v2h-4z"/>
<path fill="#ba55d3" d="M265 326h4v2h-4z"/>
<path fill="#ff0000" d="M291 326h3v2h-3z"/>
<path fill="#ffd700" d="M294 326h3v2h-3z"/>
<path fill="#ff0000" d="M294 328h3v5h-3zM287 330h7v1.2h-7z"/>
<path fill="#ffd700" d="M287 335h4v2h-4z"/>
<path fill="#ff0000" d="M291 335h3v2h-3zM287 337h4v6h-4zM269 328h4v12h-4zM273 330h4v1.5h-4z"/>
<path fill="#00bfff" d="M273 331h7v2h-7z"/>
<path fill="#ff0000" d="M277 328h3v3h-3z"/>
<path fill="#00bfff" d="M280 330h4v1.2h-4z"/>
<path fill="#ff0000" d="M280 331h4v2h-4zM273 333h4v2h-4zM277 335h3v4h-3z"/>
<path fill="#00bfff" d="M280 337h4v2h-4zM260 333h5v2h-5z"/>
<path fill="#ff0000" d="M260 335h5v2h-5zM256 339h28v4h-28zM260 343h24v3h-24z"/>
<path fill="#ffb6c1" d="M256 344h4v2h-4z"/>
<path fill="#3838ff" d="M269 344h4v2h-4z"/>
<path fill="#ffb6c1" d="M273 344h4v2h-4z"/>
<path fill="#ff0000" d="M252 346h8v4h-8zM265 346h4v2h-4zM273 346h7v4h-7z"/>
<path fill="#00bfff" d="M277 348h3v2h-3z"/>
<path fill="#ff0000" d="M252 350h4v4h-4z"/>
<path fill="#00bfff" d="M252 354h4v3h-4z"/>
<path fill="#ff0000" d="M269 350h4v4h-4z"/>
<path fill="#ffb6c1" d="M269 357h4v2h-4z"/>
<path fill="#00bfff" d="M248 361h4v2h-4z"/>
<path fill="#ff0000" d="M248 363h4v7h-4z"/>
<path fill="#ffb6c1" d="M256 389h4v2h-4z"/>
<path fill="#ff0000" d="M244 391h4v4h-4zM315 255h4v2h-4zM315 259h4v2h-4zM311 274h4v7h-4zM307 291h4v5h-4zM311 292h4v2h-4z"/>
<path fill="#008000" d="M328 292h7v2h-7z"/>
<path fill="#ffd700" d="M307 300h4v2h-4z"/>
<path fill="#ff0000" d="M287 304h4v1h-4z"/>
<path fill="#ffd700" d="M304 302h3v3h-3z"/>
<path fill="#ff0000" d="M304 305h3v2h-3z"/>
<path fill="#ffd700" d="M307 305h4v4h-4z"/>
<path fill="#ff0000" d="M307 309h4v2h-4z"/>
<path fill="#008000" d="M319 302h4v2h-4zM328 302h7v2h-7zM324 304h4v5h-4zM311 309h12v4h-12zM319 313h4v2h-4z"/>
<path fill="#00ffff" d="M301 311h3v2h-3z"/>
<path fill="#ff0000" d="M301 313h3v4h-3z"/>
<path fill="#ffd700" d="M304 313h3v2h-3z"/>
<path fill="#ffb6c1" d="M304 315h3v2h-3z"/>
<path fill="#008000" d="M307 313h4v2h-4z"/>
<path fill="#00bfff" d="M307 315h4v2h-4z"/>
<path fill="#008000" d="M315 317h4v1h-4z"/>
<path fill="#ff0000" d="M280 317h4v3h-4z"/>
<path fill="#00bfff" d="M238 231h6v2h-6z"/>
<path fill="#ff0000" d="M238 233h6v2h-6z"/>
<path fill="#00bfff" d="M238 239h6v1h-6z"/>
<path fill="#ff0000" d="M232 439h6v2h-6z"/>
<path fill="#00bfff" d="M232 441h6v2h-6z"/>
<path fill="#ff0000" d="M232 443h6v2h-6zM212 495h5v2h-5z"/>
<path fill="#00bfff" d="M187 641h4v2h-4z"/>
<path fill="#00ffff" d="M166.5 686h2.5v2h-2.5z"/>
<path fill="#ffd700" d="M294 569h3v2h-3zM387 482h3v2h-3z"/>
<path fill="#00ffff" d="M387 484h3v2h-3z"/>
<rect x="138" y="101" width="1" height="692" fill="#b0b0b0"/>
<rect x="230" y="101" width="1" height="692" fill="#b0b0b0"/>
<rect x="323" y="101" width="1" height="692" fill="#b0b0b0"/>
<rect x="415" y="101" width="1" height="692" fill="#b0b0b0"/>
<rect x="508" y="101" width="1" height="692" fill="#b0b0b0"/>
<rect x="600" y="101" width="1" height="692" fill="#b0b0b0"/>
<rect x="692" y="101" width="1" height="692" fill="#b0b0b0"/>
<rect x="93" y="174" width="692" height="1" fill="#b0b0b0"/>
<rect x="93" y="298" width="692" height="1" fill="#b0b0b0"/>
<rect x="93" y="421" width="692" height="1" fill="#b0b0b0"/>
<rect x="93" y="545" width="692" height="1" fill="#b0b0b0"/>
<rect x="93" y="669" width="692" height="1" fill="#b0b0b0"/>
<rect x="92" y="100" width="694" height="1" fill="#000"/>
<rect x="92" y="793" width="694" height="1" fill="#000"/>
<rect x="92" y="100" width="1" height="694" fill="#000"/>
<rect x="785" y="100" width="1" height="694" fill="#000"/>
<rect x="92" y="793.5" width="1" height="3.28" fill="#000"/>
<rect x="115" y="793.5" width="1" height="3.28" fill="#000"/>
<rect x="138" y="793.5" width="1" height="5.36" fill="#000"/>
<text x="138.50" y="814.60" text-anchor="middle" font-size="16.67" letter-spacing="0">2</text>
<rect x="161" y="793.5" width="1" height="3.28" fill="#000"/>
<rect x="184" y="793.5" width="1" height="3.28" fill="#000"/>
<rect x="207" y="793.5" width="1" height="3.28" fill="#000"/>
<rect x="230" y="793.5" width="1" height="5.36" fill="#000"/>
<text x="230.50" y="814.60" text-anchor="middle" font-size="16.67" letter-spacing="0">4</text>
<rect x="254" y="793.5" width="1" height="3.28" fill="#000"/>
<rect x="277" y="793.5" width="1" height="3.28" fill="#000"/>
<rect x="300" y="793.5" width="1" height="3.28" fill="#000"/>
<rect x="323" y="793.5" width="1" height="5.36" fill="#000"/>
<text x="323.50" y="814.60" text-anchor="middle" font-size="16.67" letter-spacing="0">6</text>
<rect x="346" y="793.5" width="1" height="3.28" fill="#000"/>
<rect x="369" y="793.5" width="1" height="3.28" fill="#000"/>
<rect x="392" y="793.5" width="1" height="3.28" fill="#000"/>
<rect x="415" y="793.5" width="1" height="5.36" fill="#000"/>
<text x="415.50" y="814.60" text-anchor="middle" font-size="16.67" letter-spacing="0">8</text>
<rect x="438" y="793.5" width="1" height="3.28" fill="#000"/>
<rect x="461" y="793.5" width="1" height="3.28" fill="#000"/>
<rect x="485" y="793.5" width="1" height="3.28" fill="#000"/>
<rect x="508" y="793.5" width="1" height="5.36" fill="#000"/>
<text x="508.30" y="814.60" text-anchor="middle" font-size="16.67" letter-spacing="-0.5">10</text>
<rect x="531" y="793.5" width="1" height="3.28" fill="#000"/>
<rect x="554" y="793.5" width="1" height="3.28" fill="#000"/>
<rect x="577" y="793.5" width="1" height="3.28" fill="#000"/>
<rect x="600" y="793.5" width="1" height="5.36" fill="#000"/>
<text x="600.30" y="814.60" text-anchor="middle" font-size="16.67" letter-spacing="-0.5">12</text>
<rect x="623" y="793.5" width="1" height="3.28" fill="#000"/>
<rect x="646" y="793.5" width="1" height="3.28" fill="#000"/>
<rect x="669" y="793.5" width="1" height="3.28" fill="#000"/>
<rect x="692" y="793.5" width="1" height="5.36" fill="#000"/>
<text x="692.30" y="814.60" text-anchor="middle" font-size="16.67" letter-spacing="-0.5">14</text>
<rect x="716" y="793.5" width="1" height="3.28" fill="#000"/>
<rect x="739" y="793.5" width="1" height="3.28" fill="#000"/>
<rect x="762" y="793.5" width="1" height="3.28" fill="#000"/>
<rect x="785" y="793.5" width="1" height="5.36" fill="#000"/>
<text x="785.30" y="814.60" text-anchor="middle" font-size="16.67" letter-spacing="-0.5">16</text>
<rect x="87.64" y="793" width="5.36" height="1" fill="#000"/>
<text x="82.44" y="798.50" text-anchor="end" font-size="16.67" letter-spacing="-0.3">0</text>
<rect x="89.72" y="762" width="3.28" height="1" fill="#000"/>
<rect x="89.72" y="731" width="3.28" height="1" fill="#000"/>
<rect x="89.72" y="700" width="3.28" height="1" fill="#000"/>
<rect x="87.64" y="669" width="5.36" height="1" fill="#000"/>
<text x="81.24" y="674.50" text-anchor="end" font-size="16.67" letter-spacing="-0.3">200</text>
<rect x="89.72" y="638" width="3.28" height="1" fill="#000"/>
<rect x="89.72" y="607" width="3.28" height="1" fill="#000"/>
<rect x="89.72" y="576" width="3.28" height="1" fill="#000"/>
<rect x="87.64" y="545" width="5.36" height="1" fill="#000"/>
<text x="81.24" y="550.50" text-anchor="end" font-size="16.67" letter-spacing="-0.3">400</text>
<rect x="89.72" y="514" width="3.28" height="1" fill="#000"/>
<rect x="89.72" y="483" width="3.28" height="1" fill="#000"/>
<rect x="89.72" y="452" width="3.28" height="1" fill="#000"/>
<rect x="87.64" y="421" width="5.36" height="1" fill="#000"/>
<text x="81.24" y="426.50" text-anchor="end" font-size="16.67" letter-spacing="-0.3">600</text>
<rect x="89.72" y="390" width="3.28" height="1" fill="#000"/>
<rect x="89.72" y="359" width="3.28" height="1" fill="#000"/>
<rect x="89.72" y="329" width="3.28" height="1" fill="#000"/>
<rect x="87.64" y="298" width="5.36" height="1" fill="#000"/>
<text x="81.24" y="303.50" text-anchor="end" font-size="16.67" letter-spacing="-0.3">800</text>
<rect x="89.72" y="267" width="3.28" height="1" fill="#000"/>
<rect x="89.72" y="236" width="3.28" height="1" fill="#000"/>
<rect x="89.72" y="205" width="3.28" height="1" fill="#000"/>
<rect x="87.64" y="174" width="5.36" height="1" fill="#000"/>
<text x="81.24" y="179.50" text-anchor="end" font-size="16.67" letter-spacing="-0.3">1000</text>
<rect x="89.72" y="143" width="3.28" height="1" fill="#000"/>
<rect x="89.72" y="112" width="3.28" height="1" fill="#000"/>
<text x="437.4" y="841.9" text-anchor="middle" font-size="24">Frequency (MHz)</text>
<text transform="translate(28.3 447.35) rotate(-90)" text-anchor="middle" font-size="23.9">Virtual height (km)</text>
<text x="426.45" y="31.8" text-anchor="middle" font-size="28.9">NAL CADI - May 03 11:30:00 2023 UTC</text>
<rect x="817" y="712" width="29" height="90" fill="#008000"/>
<rect x="817" y="622" width="29" height="90" fill="#ff0000"/>
<rect x="817" y="532" width="29" height="90" fill="#3838ff"/>
<rect x="817" y="442" width="29" height="90" fill="#ba55d3"/>
<rect x="817" y="352" width="29" height="90" fill="#ffb6c1"/>
<rect x="817" y="262" width="29" height="90" fill="#ffd700"/>
<rect x="817" y="172" width="29" height="90" fill="#00ffff"/>
<rect x="817" y="82" width="29" height="90" fill="#00bfff"/>
<rect x="816" y="82" width="31" height="1" fill="#000"/>
<rect x="816" y="802" width="31" height="1" fill="#000"/>
<rect x="816" y="82" width="1" height="721" fill="#000"/>
<rect x="846" y="82" width="1" height="721" fill="#000"/>
<rect x="846.5" y="802" width="3.28" height="1" fill="#000"/>
<rect x="846.5" y="712" width="3.28" height="1" fill="#000"/>
<rect x="846.5" y="622" width="3.28" height="1" fill="#000"/>
<rect x="846.5" y="532" width="3.28" height="1" fill="#000"/>
<rect x="846.5" y="442" width="3.28" height="1" fill="#000"/>
<rect x="846.5" y="352" width="3.28" height="1" fill="#000"/>
<rect x="846.5" y="262" width="3.28" height="1" fill="#000"/>
<rect x="846.5" y="172" width="3.28" height="1" fill="#000"/>
<rect x="846.5" y="82" width="3.28" height="1" fill="#000"/>
<rect x="846.5" y="757" width="5.36" height="1" fill="#000"/>
<text x="856.02" y="762.50" font-size="16.67" letter-spacing="-0.12">X-mode</text>
<rect x="846.5" y="667" width="5.36" height="1" fill="#000"/>
<text x="856.02" y="672.50" font-size="16.67" letter-spacing="-0.1">Vertical</text>
<rect x="846.5" y="577" width="5.36" height="1" fill="#000"/>
<text x="856.02" y="582.50" font-size="16.67" letter-spacing="-0.4">NNW</text>
<rect x="846.5" y="487" width="5.36" height="1" fill="#000"/>
<text x="856.02" y="492.50" font-size="16.67" letter-spacing="-0.4">W</text>
<rect x="846.5" y="397" width="5.36" height="1" fill="#000"/>
<text x="856.02" y="402.50" font-size="16.67" letter-spacing="-0.4">SSW</text>
<rect x="846.5" y="307" width="5.36" height="1" fill="#000"/>
<text x="856.02" y="312.50" font-size="16.67" letter-spacing="-0.4">SSE</text>
<rect x="846.5" y="217" width="5.36" height="1" fill="#000"/>
<text x="856.02" y="222.50" font-size="16.67" letter-spacing="-0.4">E</text>
<rect x="846.5" y="127" width="5.36" height="1" fill="#000"/>
<text x="856.02" y="132.50" font-size="16.67" letter-spacing="-0.4">NNE</text>
<text transform="translate(943 442.90) rotate(-90)" text-anchor="middle" font-size="23.92">Azimuth Direction</text>
</svg></body></html>
